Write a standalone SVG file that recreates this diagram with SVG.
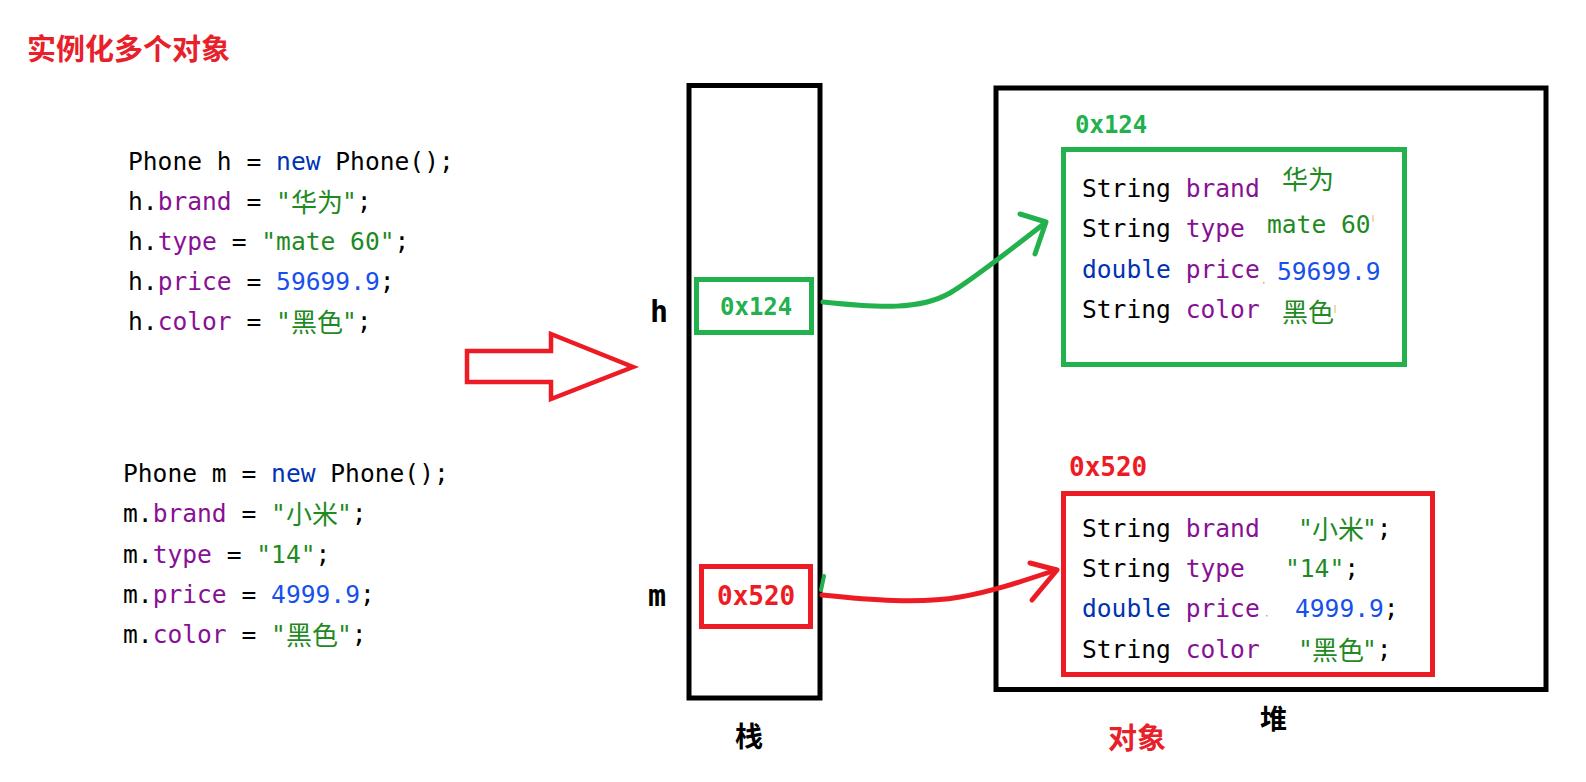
<svg xmlns="http://www.w3.org/2000/svg" width="1586" height="782" viewBox="0 0 1586 782">
<style>
.code{font-family:"DejaVu Sans Mono","Liberation Mono",monospace;font-size:24.6px;white-space:pre;fill:#000}
.cjk{font-family:"Noto Sans CJK SC","Noto Sans",sans-serif;font-size:26px;fill:#1f8a1f}
.k{fill:#0033b3}.f{fill:#871094}.s{fill:#1f8a1f}.n{fill:#1750eb}
.bold{font-family:"DejaVu Sans Mono","Liberation Mono",monospace;font-weight:bold}
.zh{font-family:"Noto Sans CJK SC","Noto Sans",sans-serif;font-weight:bold}
.box{fill:none;stroke:#000;stroke-width:5}
.gbox{fill:none;stroke:#22b14c;stroke-width:5}
.rbox{fill:none;stroke:#ed1c24;stroke-width:5}
.garr{fill:none;stroke:#22b14c;stroke-width:5;stroke-linecap:round;stroke-linejoin:round}
.rarr{fill:none;stroke:#ed1c24;stroke-width:5;stroke-linecap:round;stroke-linejoin:round}
</style>
<rect width="1586" height="782" fill="#fff"/>
<g id="title"><text class="zh" x="27" y="60" font-size="29" fill="#e8202a">实例化多个对象</text></g>
<g id="code-h">
<text class="code" x="128" y="170">Phone h = <tspan class="k">new</tspan> Phone();</text>
<text class="code" x="128" y="210">h.<tspan class="f">brand</tspan> = <tspan class="s">"</tspan></text>
<text class="cjk" x="291" y="212">华为</text>
<text class="code" x="342" y="210"><tspan class="s">"</tspan>;</text>
<text class="code" x="128" y="250">h.<tspan class="f">type</tspan> = <tspan class="s">"mate 60"</tspan>;</text>
<text class="code" x="128" y="290">h.<tspan class="f">price</tspan> = <tspan class="n">59699.9</tspan>;</text>
<text class="code" x="128" y="330">h.<tspan class="f">color</tspan> = <tspan class="s">"</tspan></text>
<text class="cjk" x="291" y="332">黑色</text>
<text class="code" x="342" y="330"><tspan class="s">"</tspan>;</text>
</g>
<g id="code-m">
<text class="code" x="123" y="482">Phone m = <tspan class="k">new</tspan> Phone();</text>
<text class="code" x="123" y="522">m.<tspan class="f">brand</tspan> = <tspan class="s">"</tspan></text>
<text class="cjk" x="286" y="524">小米</text>
<text class="code" x="337" y="522"><tspan class="s">"</tspan>;</text>
<text class="code" x="123" y="563">m.<tspan class="f">type</tspan> = <tspan class="s">"14"</tspan>;</text>
<text class="code" x="123" y="603">m.<tspan class="f">price</tspan> = <tspan class="n">4999.9</tspan>;</text>
<text class="code" x="123" y="643">m.<tspan class="f">color</tspan> = <tspan class="s">"</tspan></text>
<text class="cjk" x="286" y="645">黑色</text>
<text class="code" x="337" y="643"><tspan class="s">"</tspan>;</text>
</g>
<g id="big-arrow"><path d="M467 351 L551 351 L551 334 L633 367 L551 399 L551 382 L467 382 Z" fill="none" stroke="#ed1c24" stroke-width="4.5" stroke-linejoin="miter"/></g>
<g id="stack">
<rect class="box" x="689" y="85.5" width="131" height="612.5"/>
<text class="zh" x="735" y="747" font-size="28" fill="#000">栈</text>
</g>
<g id="label-h"><text class="bold" x="650" y="322" font-size="30" fill="#000">h</text></g>
<g id="label-m"><text class="bold" x="648" y="606" font-size="30" fill="#000">m</text></g>
<g id="ref-h">
<rect class="gbox" x="696.5" y="279.5" width="115" height="53"/>
<text class="bold" x="720" y="315" font-size="24" fill="#22b14c">0x124</text>
</g>
<g id="ref-m">
<rect class="rbox" x="701.5" y="566.5" width="109" height="60"/>
<text class="bold" x="717" y="605" font-size="26" fill="#ed1c24">0x520</text>
</g>
<g id="heap">
<rect class="box" x="996" y="88" width="550" height="601.5"/>
<text class="zh" x="1260" y="729" font-size="27" fill="#000">堆</text>
</g>
<g id="obj-label"><text class="zh" x="1108" y="749" font-size="29" fill="#e8202a">对象</text></g>
<g id="obj-h">
<text class="bold" x="1075" y="133" font-size="24" fill="#22b14c">0x124</text>
<rect class="gbox" x="1063.5" y="149.5" width="341" height="215"/>
<text class="code" x="1082" y="197">String <tspan class="f">brand</tspan></text>
<text class="cjk" x="1282" y="189">华为</text>
<text class="code" x="1082" y="237">String <tspan class="f">type</tspan></text>
<text class="code s" x="1267" y="233">mate 60</text>
<line x1="1373" y1="215" x2="1373" y2="222" stroke="#e0b070" stroke-width="1"/>
<text class="code" x="1082" y="278"><tspan class="k">double</tspan> <tspan class="f">price</tspan></text>
<rect x="1263" y="282" width="1.5" height="1.5" fill="#e0a050"/>
<text class="code n" x="1277" y="280">59699.9</text>
<text class="code" x="1082" y="318">String <tspan class="f">color</tspan></text>
<text class="cjk" x="1282" y="322">黑色</text>
<line x1="1335" y1="305" x2="1335" y2="313" stroke="#e0b070" stroke-width="1"/>
</g>
<g id="obj-m">
<text class="bold" x="1069" y="476" font-size="26" fill="#ed1c24">0x520</text>
<rect class="rbox" x="1063.5" y="493.5" width="369" height="181"/>
<text class="code" x="1082" y="537">String <tspan class="f">brand</tspan></text>
<text class="code s" x="1298" y="537">"</text>
<text class="cjk" x="1312" y="539">小米</text>
<text class="code" x="1362" y="537"><tspan class="s">"</tspan>;</text>
<text class="code" x="1082" y="577">String <tspan class="f">type</tspan></text>
<text class="code" x="1285" y="577"><tspan class="s">"14"</tspan>;</text>
<text class="code" x="1082" y="617"><tspan class="k">double</tspan> <tspan class="f">price</tspan></text>
<rect x="1266" y="615" width="1.5" height="1.5" fill="#e0a050"/>
<text class="code" x="1295" y="617"><tspan class="n">4999.9</tspan>;</text>
<text class="code" x="1082" y="658">String <tspan class="f">color</tspan></text>
<text class="code s" x="1298" y="658">"</text>
<text class="cjk" x="1312" y="660">黑色</text>
<text class="code" x="1362" y="658"><tspan class="s">"</tspan>;</text>
</g>
<g id="connectors">
<path class="garr" d="M823 302 C880 308 920 310 950 293 C975 278 1010 250 1045 223"/>
<path class="garr" d="M1020 214 L1046 222 L1035 254"/>
<path class="rarr" d="M822 595 C870 600 920 604 960 597 C990 592 1020 582 1056 570"/>
<path class="rarr" d="M1030 563 L1057 570 L1032 600"/>
<path d="M824 576 L821 590" stroke="#22b14c" stroke-width="4" stroke-linecap="round"/>
</g>
</svg>
